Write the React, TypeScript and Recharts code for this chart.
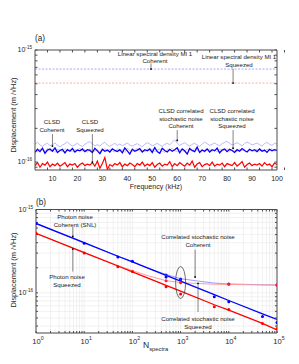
import React from "react";
import { ComposedChart, Line, Scatter, XAxis, YAxis, CartesianGrid, ReferenceLine, ReferenceDot } from "recharts";

const FONT = "'Liberation Sans', Arial, sans-serif";
const INK = "#262626";
const BOX = "#4d4d4d";

// ---- panel (a): spectra vs frequency, values in 1e-16 m/√Hz ----
const freqKHz = [
  3, 4, 5, 6, 7, 8, 9, 10, 11, 12, 13, 14, 15, 16, 17, 18, 19, 20, 21, 22,
  23, 24, 25, 26, 27, 28, 29, 30, 31, 32, 33, 34, 35, 36, 37, 38, 39, 40, 41, 42,
  43, 44, 45, 46, 47, 48, 49, 50, 51, 52, 53, 54, 55, 56, 57, 58, 59, 60, 61, 62,
  63, 64, 65, 66, 67, 68, 69, 70, 71, 72, 73, 74, 75, 76, 77, 78, 79, 80, 81, 82,
  83, 84, 85, 86, 87, 88, 89, 90, 91, 92, 93, 94, 95, 96, 97, 98, 99, 100,
];
const clsdCoherent = [
  1.22, 1.30, 1.24, 1.33, 1.20, 1.28, 1.31, 1.25, 1.34, 1.22, 1.27, 1.30, 1.21, 1.29, 1.25, 1.32, 1.23, 1.28, 1.26, 1.31,
  1.24, 1.29, 1.27, 1.22, 1.33, 1.26, 1.19, 1.30, 1.25, 1.28, 1.23, 1.31, 1.27, 1.24, 1.29, 1.21, 1.34, 1.26, 1.18, 1.30,
  1.25, 1.28, 1.32, 1.23, 1.29, 1.26, 1.31, 1.22, 1.35, 1.24, 1.20, 1.33, 1.27, 1.23, 1.30, 1.25, 1.29, 1.34, 1.21, 1.31,
  1.26, 1.18, 1.32, 1.27, 1.24, 1.36, 1.22, 1.28, 1.25, 1.31, 1.23, 1.29, 1.26, 1.33, 1.21, 1.28, 1.31, 1.24, 1.30, 1.27,
  1.22, 1.29, 1.25, 1.32, 1.27, 1.23, 1.30, 1.26, 1.29, 1.24, 1.31, 1.25, 1.28, 1.22, 1.30, 1.26, 1.29, 1.27,
];
const clsdSqueezed = [
  0.93, 0.99, 0.90, 0.97, 0.94, 1.00, 0.91, 0.96, 0.93, 0.98, 0.92, 0.95, 0.99, 0.91, 0.96, 0.94, 0.97, 0.90, 0.95, 0.98,
  0.93, 0.96, 0.94, 0.99, 0.92, 1.02, 0.88, 0.97, 1.10, 0.86, 0.95, 0.92, 0.97, 0.94, 0.99, 0.91, 0.96, 0.93, 0.98, 0.95,
  0.91, 0.97, 0.94, 1.00, 0.92, 0.96, 0.93, 0.99, 0.90, 0.95, 0.98, 0.92, 0.96, 0.94, 1.01, 0.91, 0.97, 0.93, 0.99, 0.95,
  0.92, 0.98, 0.94, 1.02, 0.90, 0.96, 0.99, 0.91, 0.95, 0.97, 0.93, 1.00, 0.92, 0.96, 0.94, 0.98, 0.91, 0.97, 0.95, 0.93,
  0.99, 0.92, 0.96, 1.01, 0.90, 0.95, 0.98, 0.93, 0.96, 0.94, 0.97, 0.92, 0.99, 0.94, 0.96, 0.91, 0.98, 0.95,
];
const corrCoherent = [
  1.45, 1.50, 1.42, 1.38, 1.44, 1.47, 1.40, 1.43, 1.48, 1.41, 1.37, 1.42, 1.46, 1.51, 1.44, 1.39, 1.43, 1.47, 1.41, 1.38,
  1.44, 1.49, 1.52, 1.45, 1.40, 1.43, 1.39, 1.46, 1.50, 1.42, 1.38, 1.43, 1.47, 1.41, 1.45, 1.40, 1.44, 1.48, 1.42, 1.39,
  1.43, 1.46, 1.41, 1.37, 1.44, 1.49, 1.45, 1.40, 1.43, 1.47, 1.42, 1.38, 1.44, 1.47, 1.43, 1.50, 1.58, 1.48, 1.41, 1.45,
  1.49, 1.43, 1.39, 1.44, 1.47, 1.42, 1.38, 1.45, 1.51, 1.46, 1.41, 1.44, 1.48, 1.43, 1.40, 1.46, 1.50, 1.53, 1.47, 1.42,
  1.45, 1.49, 1.44, 1.40, 1.46, 1.51, 1.47, 1.42, 1.45, 1.48, 1.43, 1.39, 1.46, 1.50, 1.44, 1.41, 1.47, 1.45,
];
const corrSqueezed = [
  1.26, 1.23, 1.31, 1.27, 1.24, 1.33, 1.25, 1.29, 1.22, 1.30, 1.28, 1.24, 1.32, 1.26, 1.30, 1.23, 1.29, 1.27, 1.33, 1.25,
  1.29, 1.22, 1.31, 1.27, 1.25, 1.30, 1.24, 1.28, 1.32, 1.26, 1.30, 1.25, 1.23, 1.31, 1.26, 1.29, 1.22, 1.33, 1.27, 1.24,
  1.29, 1.32, 1.25, 1.28, 1.23, 1.31, 1.26, 1.30, 1.24, 1.28, 1.31, 1.25, 1.22, 1.30, 1.27, 1.33, 1.26, 1.24, 1.30, 1.27,
  1.23, 1.31, 1.28, 1.25, 1.32, 1.27, 1.24, 1.30, 1.22, 1.28, 1.30, 1.25, 1.29, 1.23, 1.31, 1.26, 1.28, 1.32, 1.25, 1.29,
  1.27, 1.24, 1.31, 1.26, 1.29, 1.23, 1.30, 1.27, 1.25, 1.31, 1.26, 1.29, 1.24, 1.30, 1.27, 1.32, 1.25, 1.28,
];
const lsdMI1Coherent = 6.76e-16;
const lsdMI1Squeezed = 5.07e-16;
const aXTicks = [5, 10, 15, 20, 25, 30, 35, 40, 45, 50, 55, 60, 65, 70, 75, 80, 85, 90, 95, 100];
const aYTicks = [9e-17, 1e-16, 2e-16, 3e-16, 4e-16, 5e-16, 6e-16, 7e-16, 8e-16, 9e-16, 1e-15];

// ---- panel (b): noise vs number of averaged spectra, values in 1e-16 m/√Hz ----
const nSpectra = [1, 10, 50, 100, 500, 1000, 5000, 10000, 50000, 100000];
const photonCoherent = [6.8, 4.0, 2.75, 2.35, 1.62, 1.38, 0.95, 0.81, 0.56, 0.48];
const photonSqueezed = [5.18, 3.04, 2.10, 1.79, 1.23, 1.05, 0.72, 0.62, 0.43, 0.36];
const measCoherent = [6.8, 3.94, 2.69, 2.40, 1.55, 1.45, 0.90, 0.78, 0.52, 0.44];
const measSqueezed = [5.18, 3.0, 2.05, 1.80, 1.18, 0.97, 0.68, 0.63, 0.43, 0.37];
const nCorr = [1, 10, 50, 100, 200, 500, 1000, 2000, 5000, 10000, 50000, 100000];
const corrCurveCoherent = [6.8, 3.95, 2.75, 2.38, 2.0, 1.66, 1.48, 1.40, 1.31, 1.28, 1.25, 1.245];
const corrCurveSqueezed = [5.18, 3.05, 2.13, 1.85, 1.62, 1.40, 1.33, 1.30, 1.27, 1.26, 1.245, 1.24];
const nCorrDots = [500, 1000, 10000, 100000];
const corrDotsCoherent = [1.64, 1.47, 1.28, 1.245];
const corrDotsSqueezed = [1.40, 1.32, 1.27, 1.24];
const bXTicks = [
  1, 2, 3, 4, 5, 6, 7, 8, 9, 10, 20, 30, 40, 50, 60, 70, 80, 90, 100, 200, 300, 400, 500, 600, 700, 800, 900,
  1000, 2000, 3000, 4000, 5000, 6000, 7000, 8000, 9000, 10000, 20000, 30000, 40000, 50000, 60000, 70000, 80000, 90000, 100000,
];
const bYTicks = [
  4e-17, 5e-17, 6e-17, 7e-17, 8e-17, 9e-17, 1e-16, 2e-16, 3e-16, 4e-16, 5e-16, 6e-16, 7e-16, 8e-16, 9e-16, 1e-15,
];

const U = 1e-16;
const specRows = freqKHz.map((f, i) => ({
  f, cc: clsdCoherent[i] * U, cs: clsdSqueezed[i] * U, kc: corrCoherent[i] * U, ks: corrSqueezed[i] * U,
}));
const photonRows = nSpectra.map((n, i) => ({ n, pc: photonCoherent[i] * U, ps: photonSqueezed[i] * U }));
const measCohRows = nSpectra.map((n, i) => ({ n, v: measCoherent[i] * U }));
const measSqzRows = nSpectra.map((n, i) => ({ n, v: measSqueezed[i] * U }));
const corrCohRows = nCorr.map((n, i) => ({ n, v: corrCurveCoherent[i] * U }));
const corrSqzRows = nCorr.map((n, i) => ({ n, v: corrCurveSqueezed[i] * U }));
const corrDotCohRows = nCorrDots.map((n, i) => ({ n, v: corrDotsCoherent[i] * U }));
const corrDotSqzRows = nCorrDots.map((n, i) => ({ n, v: corrDotsSqueezed[i] * U }));

const isDecade = (v: number) => {
  const e = Math.log10(v);
  return Math.abs(e - Math.round(e)) < 1e-6;
};

const PowTickY = ({ x, y, payload }: any) => {
  if (!isDecade(payload.value)) return <g />;
  return (
    <text x={x} y={y} dy={2.4} textAnchor="end" fontSize={7} fontFamily={FONT} fill={INK}>
      10<tspan dy={-3.4} fontSize={4.6}>{Math.round(Math.log10(payload.value))}</tspan>
    </text>
  );
};

const PowTickX = ({ x, y, payload }: any) => {
  if (!isDecade(payload.value)) return <g />;
  return (
    <text x={x + 2} y={y} dy={5.4} textAnchor="middle" fontSize={7.6} fontFamily={FONT} fill={INK}>
      10<tspan dy={-3.6} fontSize={5.2}>{Math.round(Math.log10(payload.value))}</tspan>
    </text>
  );
};

const FreqTick = ({ x, y, payload }: any) => {
  if (Math.round(payload.value) % 10 !== 0) return <g />;
  return (
    <text x={x} y={y} dy={5} textAnchor="middle" fontSize={7} fontFamily={FONT} fill={INK}>{payload.value}</text>
  );
};

const Empty = () => <g />;
const dot = (color: string) => (p: any) => <circle cx={p.cx} cy={p.cy} r={1.5} fill={color} />;
const tipDot = (p: any) => <circle cx={p.cx} cy={p.cy} r={0.9} fill="#000" />;
const ellipse = (p: any) => <ellipse cx={p.cx} cy={p.cy} rx={5} ry={16} fill="none" stroke="#333" strokeWidth={0.7} />;

const Note = ({ x, y, lines, lh = 7.8 }: { x: number; y: number; lines: string[]; lh?: number }) => (
  <div style={{ position: "absolute", left: x, top: y, transform: "translateX(-50%)", textAlign: "center", fontSize: 6.1, lineHeight: `${lh}px`, whiteSpace: "nowrap", color: "#222" }}>
    {lines.map((l) => <div key={l}>{l}</div>)}
  </div>
);

const YTitle = ({ cy }: { cy: number }) => (
  <div style={{ position: "absolute", left: 13, top: cy, transform: "translate(-50%, -50%) rotate(-90deg)", fontSize: 7.4, whiteSpace: "nowrap", color: INK }}>
    Displacement (m /√Hz)
  </div>
);

const Arrow = ({ x, y1, y2 }: any) => (
  <ReferenceLine segment={[{ x, y: y1 }, { x, y: y2 }]} stroke="#333" strokeWidth={0.6} ifOverflow="visible" />
);

export default function App() {
  return (
    <div style={{ position: "fixed", left: 0, top: 0, width: 299, height: 364, background: "#fff", fontFamily: FONT, overflow: "hidden" }}>
      {/* (a) spectra */}
      <div style={{ position: "absolute", left: 0, top: 0 }}>
        <ComposedChart width={299} height={190} data={specRows} margin={{ top: 50, right: 22, bottom: 0, left: 0 }}>
          <XAxis dataKey="f" type="number" domain={[3, 100]} ticks={aXTicks} interval={0} allowDataOverflow tick={<FreqTick />} tickLine={false} tickSize={0} tickMargin={6} height={20} stroke={BOX} />
          <XAxis xAxisId="bm" type="number" domain={[3, 100]} ticks={aXTicks} interval={0} allowDataOverflow mirror tick={Empty} tickSize={2.5} axisLine={false} stroke={BOX} height={10} />
          <XAxis xAxisId="tm" orientation="top" type="number" domain={[3, 100]} ticks={aXTicks} interval={0} allowDataOverflow mirror tick={Empty} tickSize={2.5} stroke={BOX} height={10} />
          <YAxis type="number" scale="log" domain={[8.5e-17, 1e-15]} ticks={aYTicks} interval={0} allowDataOverflow tick={<PowTickY />} tickLine={false} tickSize={0} tickMargin={3} width={35} stroke={BOX} />
          <YAxis yAxisId="lm" type="number" scale="log" domain={[8.5e-17, 1e-15]} ticks={aYTicks} interval={0} allowDataOverflow mirror tick={Empty} tickSize={2.5} axisLine={false} width={10} stroke={BOX} />
          <YAxis yAxisId="rm" orientation="right" type="number" scale="log" domain={[8.5e-17, 1e-15]} ticks={aYTicks} interval={0} allowDataOverflow mirror tick={Empty} tickSize={2.5} width={10} stroke={BOX} />
          <ReferenceLine y={lsdMI1Coherent} stroke="#9090f5" strokeWidth={0.8} strokeDasharray="2 1.5" />
          <ReferenceLine y={lsdMI1Squeezed} stroke="#f59a9a" strokeWidth={0.8} strokeDasharray="2 1.5" />
          <Line dataKey="kc" stroke="#a8a8ff" strokeWidth={0.8} dot={false} isAnimationActive={false} />
          <Line dataKey="ks" stroke="#ffa4a4" strokeWidth={0.8} dot={false} isAnimationActive={false} />
          <Line dataKey="cc" stroke="#0000ff" strokeWidth={1.3} dot={false} isAnimationActive={false} />
          <Line dataKey="cs" stroke="#ff0000" strokeWidth={1.2} dot={false} isAnimationActive={false} />
          {Arrow({ x: 49.5, y1: 7.6e-16, y2: lsdMI1Coherent })}
          {Arrow({ x: 82.4, y1: 6.8e-16, y2: lsdMI1Squeezed })}
          {Arrow({ x: 10, y1: 1.78e-16, y2: 1.39e-16 })}
          {Arrow({ x: 26, y1: 1.78e-16, y2: 1.0e-16 })}
          {Arrow({ x: 60, y1: 1.93e-16, y2: 1.56e-16 })}
          {Arrow({ x: 82.4, y1: 1.93e-16, y2: 1.33e-16 })}
          <ReferenceDot x={49.5} y={lsdMI1Coherent} shape={tipDot} ifOverflow="visible" />
          <ReferenceDot x={82.4} y={lsdMI1Squeezed} shape={tipDot} ifOverflow="visible" />
          <ReferenceDot x={10} y={1.39e-16} shape={tipDot} ifOverflow="visible" />
          <ReferenceDot x={26} y={1.0e-16} shape={tipDot} ifOverflow="visible" />
          <ReferenceDot x={60} y={1.56e-16} shape={tipDot} ifOverflow="visible" />
          <ReferenceDot x={82.4} y={1.33e-16} shape={tipDot} ifOverflow="visible" />
        </ComposedChart>
      </div>

      {/* (b) noise vs N */}
      <div style={{ position: "absolute", left: 0, top: 190 }}>
        <ComposedChart width={299} height={174} data={photonRows} margin={{ top: 19.5, right: 22, bottom: 0, left: 0 }}>
          <CartesianGrid stroke="#e8e8e8" strokeWidth={0.6} />
          <XAxis dataKey="n" type="number" scale="log" domain={[1, 100000]} ticks={bXTicks} interval={0} allowDataOverflow tick={<PowTickX />} tickLine={false} tickSize={0} tickMargin={5.5} height={31} stroke={BOX} />
          <XAxis xAxisId="bm" dataKey="n" type="number" scale="log" domain={[1, 100000]} ticks={bXTicks} interval={0} allowDataOverflow mirror tick={Empty} tickSize={2} axisLine={false} height={10} stroke={BOX} />
          <XAxis xAxisId="tm" dataKey="n" orientation="top" type="number" scale="log" domain={[1, 100000]} ticks={bXTicks} interval={0} allowDataOverflow mirror tick={Empty} tickSize={2} height={10} stroke={BOX} />
          <YAxis type="number" scale="log" domain={[3.3e-17, 1e-15]} ticks={bYTicks} interval={0} allowDataOverflow tick={<PowTickY />} tickLine={false} tickSize={0} tickMargin={3} width={36} stroke={BOX} />
          <YAxis yAxisId="lm" type="number" scale="log" domain={[3.3e-17, 1e-15]} ticks={bYTicks} interval={0} allowDataOverflow mirror tick={Empty} tickSize={2} axisLine={false} width={10} stroke={BOX} />
          <YAxis yAxisId="rm" orientation="right" type="number" scale="log" domain={[3.3e-17, 1e-15]} ticks={bYTicks} interval={0} allowDataOverflow mirror tick={Empty} tickSize={2} width={10} stroke={BOX} />
          <Line data={corrCohRows} dataKey="v" stroke="#9a9aff" strokeWidth={1} dot={false} isAnimationActive={false} />
          <Line data={corrSqzRows} dataKey="v" stroke="#ff9c9c" strokeWidth={1} dot={false} isAnimationActive={false} />
          <Line dataKey="pc" stroke="#0000ff" strokeWidth={1.3} dot={false} isAnimationActive={false} />
          <Line dataKey="ps" stroke="#ff0000" strokeWidth={1.3} dot={false} isAnimationActive={false} />
          <Scatter data={measCohRows} dataKey="v" shape={dot("#0000ff")} isAnimationActive={false} />
          <Scatter data={measSqzRows} dataKey="v" shape={dot("#ff0000")} isAnimationActive={false} />
          <Scatter data={corrDotCohRows} dataKey="v" shape={dot("#2020ff")} isAnimationActive={false} />
          <Scatter data={corrDotSqzRows} dataKey="v" shape={dot("#ff2020")} isAnimationActive={false} />
          <ReferenceDot x={1000} y={1.33e-16} shape={ellipse} ifOverflow="visible" />
          {Arrow({ x: 5.8, y1: 6.2e-16, y2: 4.75e-16 })}
          {Arrow({ x: 5.8, y1: 1.8e-16, y2: 3.35e-16 })}
          {Arrow({ x: 2000, y1: 3.3e-16, y2: 1.55e-16 })}
          {Arrow({ x: 2300, y1: 5.9e-17, y2: 1.3e-16 })}
          <ReferenceDot x={5.8} y={4.75e-16} shape={tipDot} ifOverflow="visible" />
          <ReferenceDot x={5.8} y={3.35e-16} shape={tipDot} ifOverflow="visible" />
          <ReferenceDot x={2000} y={1.55e-16} shape={tipDot} ifOverflow="visible" />
          <ReferenceDot x={2300} y={1.3e-16} shape={tipDot} ifOverflow="visible" />
        </ComposedChart>
      </div>

      {/* panel letters, axis titles, annotations */}
      <div style={{ position: "absolute", left: 35, top: 34, fontSize: 8.2, color: INK }}>(a)</div>
      <div style={{ position: "absolute", left: 36, top: 198, fontSize: 8.2, color: INK }}>(b)</div>
      <YTitle cy={115} />
      <YTitle cy={270} />
      <div style={{ position: "absolute", left: 156, top: 187, transform: "translate(-50%, -50%)", fontSize: 7.1, whiteSpace: "nowrap", color: INK }}>Frequency (kHz)</div>
      <div style={{ position: "absolute", left: 143, top: 340, fontSize: 8.6, whiteSpace: "nowrap", color: INK }}>
        N<span style={{ fontSize: 5.8, position: "relative", top: 3 }}>spectra</span>
      </div>

      <Note x={155} y={49.5} lh={7} lines={["Linear spectral density MI 1", "Coherent"]} />
      <Note x={239} y={53} lines={["Linear spectral density MI 1", "Squeezed"]} />
      <Note x={52} y={118} lines={["CLSD", "Coherent"]} />
      <Note x={90} y={118} lines={["CLSD", "Squeezed"]} />
      <Note x={181} y={107} lh={7.5} lines={["CLSD correlated", "stochastic noise", "Coherent"]} />
      <Note x={232} y={107} lh={7.5} lines={["CLSD correlated", "stochastic noise", "Squeezed"]} />
      <Note x={75} y={213} lines={["Photon noise", "Coherent (SNL)"]} />
      <Note x={67} y={273} lines={["Photon noise", "Squeezed"]} />
      <Note x={198} y={233} lines={["Correlated stochastic noise", "Coherent"]} />
      <Note x={198} y={315} lines={["Correlated stochastic noise", "Squeezed"]} />
    </div>
  );
}
